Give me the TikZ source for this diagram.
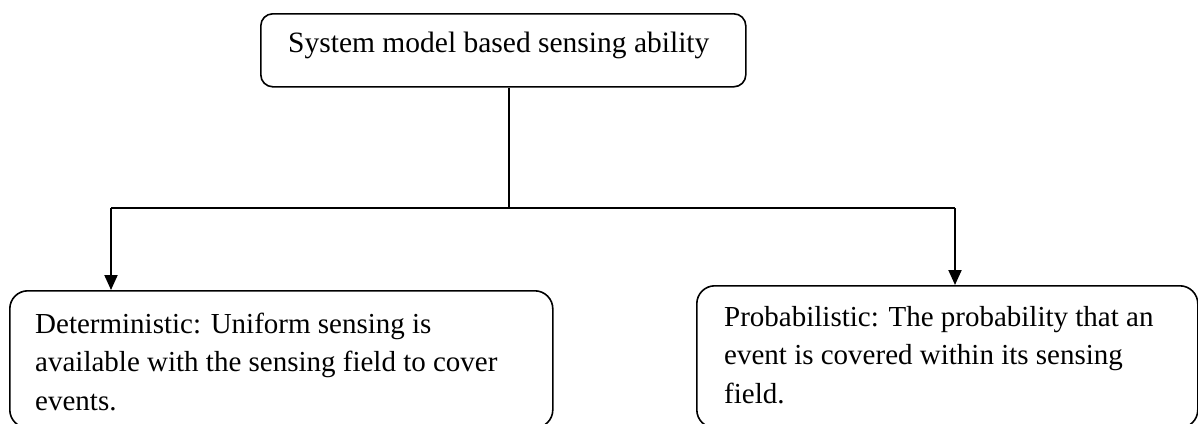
\documentclass[tikz,border=0pt]{standalone}
\usepackage{fontspec}
\setmainfont{Liberation Serif}
\usetikzlibrary{arrows.meta}
\begin{document}
\begin{tikzpicture}[x=1pt,y=-1pt,
  box/.style={draw=black, line width=1.6pt, rounded corners=18pt, inner sep=0pt},
  txt/.style={font=\fontsize{29}{38.5}\selectfont, align=left, inner sep=0pt, anchor=base west},
  link/.style={line width=2pt},
  arr/.style={line width=2pt, -{Triangle[width=13pt,length=15pt]}}]
\useasboundingbox (0,0) rectangle (1198,423);
% boxes
\node[box, rounded corners=12pt, minimum width=485pt, minimum height=73pt, anchor=north west] (top) at (260,13) {};
\node[box, minimum width=543pt, minimum height=137pt, anchor=north west] (det) at (9,290) {};
\node[box, minimum width=501pt, minimum height=142pt, anchor=north west] (prob) at (696,285) {};
% texts (base anchor = baseline of the last line)
\node[txt, font=\fontsize{29.5}{36}\selectfont] (toptext) at (288,52) {System model based sensing ability};
\node[txt] (dettext) at (35,410) {Deterministic: Uniform sensing is\\available with the sensing field to cover\\events.};
\node[txt] (probtext) at (724,403) {Probabilistic: The probability that an\\event is covered within its sensing\\field.};
% connectors
\coordinate (j) at (509,208);
\coordinate (jl) at (111,208);
\coordinate (jr) at (955,208);
\draw[link] (top.south -| j) -- ([yshift=-1pt]j);
\draw[link] (jl) -- (jr);
\draw[arr] (jl) -- (det.north -| jl);
\draw[arr] (jr) -- (prob.north -| jr);
\end{tikzpicture}
\end{document}
